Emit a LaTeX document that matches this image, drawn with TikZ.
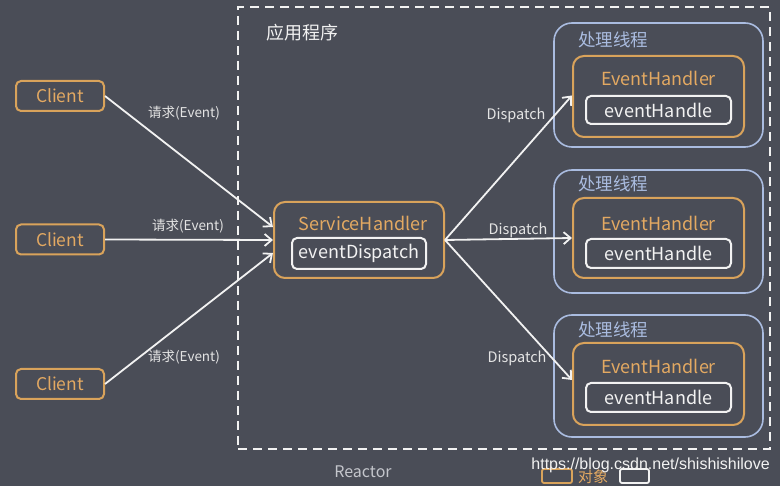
\documentclass[tikz,border=0pt]{standalone}
\usepackage{fontspec}
\setmainfont{Noto Sans CJK SC}
\newfontfamily\wmfont{Liberation Sans}
\usetikzlibrary{arrows.meta}
\definecolor{bgc}{HTML}{4A4D57}
\definecolor{org}{HTML}{D9A35B}
\definecolor{orgtxt}{HTML}{E3A962}
\definecolor{blu}{HTML}{AABCE0}
\definecolor{wht}{HTML}{F2F2F2}
\definecolor{lbl}{HTML}{E4E4E4}
\definecolor{rct}{HTML}{C4C6CC}
\tikzset{
  fs/.style={font=\fontsize{#1}{#1}\selectfont},
  clientbox/.style={draw=org, line width=2pt, rounded corners=5pt, minimum width=88pt, minimum height=30pt, inner sep=0pt, text=orgtxt, fs=17.5},
  outerbox/.style={draw=org, line width=2pt, rounded corners=11pt, inner sep=0pt},
  methodbox/.style={draw=wht, line width=2pt, rounded corners=5pt, inner sep=0pt, text=wht, fs=18},
  threadbox/.style={draw=blu, line width=1.6pt, rounded corners=18pt, inner sep=0pt, minimum width=209pt},
  titletxt/.style={text=orgtxt, fs=18, inner sep=0pt},
  threadtxt/.style={text=blu, fs=17.5, inner sep=0pt, anchor=west},
  lab/.style={text=lbl, fs=13.5, inner sep=0pt},
  dlab/.style={text=lbl, fs=14.5, inner sep=0pt},
  conn/.style={draw=wht, line width=1.8pt, -{Straight Barb[length=7pt,width=12pt,line width=1.8pt]}},
}
\begin{document}
\begin{tikzpicture}[x=1pt,y=-1pt]
\fill[bgc] (0,0) rectangle (780,486);
\useasboundingbox (0,0) rectangle (780,486);
% application frame
\node[draw=wht, line width=2.4pt, dash pattern=on 9pt off 6pt, minimum width=532pt, minimum height=442pt, inner sep=0pt] (app) at (504,228) {};
\node[text=wht, fs=18, inner sep=0pt, anchor=west] (apptxt) at (266,33) {应用程序};
% clients
\node[clientbox] (c1) at (60,96) {Client};
\node[clientbox] (c2) at (60,239.5) {Client};
\node[clientbox] (c3) at (60,384) {Client};
% service handler
\node[outerbox, minimum width=170pt, minimum height=76pt] (sh) at (359,240) {};
\node[titletxt] (shtxt) at (363,223) {ServiceHandler};
\node[methodbox, minimum width=134pt, minimum height=31pt] (ed) at (359,253.5) {eventDispatch};
% threads
\node[threadbox, minimum height=124pt] (t1) at (658.5,85) {};
\node[threadbox, minimum height=123pt] (t2) at (658.5,231.5) {};
\node[threadbox, minimum height=122pt] (t3) at (658.5,376) {};
\node[threadtxt] (tt1) at (578,40) {处理线程};
\node[threadtxt] (tt2) at (578,184) {处理线程};
\node[threadtxt] (tt3) at (578,330) {处理线程};
\node[outerbox, minimum width=171pt, minimum height=81pt] (h1) at (658.5,96.5) {};
\node[outerbox, minimum width=171pt, minimum height=80pt] (h2) at (658.5,238) {};
\node[outerbox, minimum width=171pt, minimum height=82pt] (h3) at (658.5,384) {};
\node[titletxt] (ht1) at (658.5,78) {EventHandler};
\node[titletxt] (ht2) at (658.5,223) {EventHandler};
\node[titletxt] (ht3) at (658.5,366) {EventHandler};
\node[methodbox, minimum width=145pt, minimum height=28pt] (m1) at (658.5,110) {eventHandle};
\node[methodbox, minimum width=145pt, minimum height=29pt] (m2) at (658.5,253.5) {eventHandle};
\node[methodbox, minimum width=145pt, minimum height=29pt] (m3) at (658.5,397.5) {eventHandle};
% connectors
\draw[conn] (c1.east) -- ([yshift=13pt]sh.west);
\draw[conn] (c2.east) -- (sh.west);
\draw[conn] (c3.east) -- ([yshift=-13pt]sh.west);
\draw[conn] (sh.east) -- ([yshift=1pt]h1.west);
\draw[conn] (sh.east) -- (h2.west);
\draw[conn] (sh.east) -- ([yshift=4pt]h3.west);
% labels
\node[lab] (l1) at (184,113) {请求(Event)};
\node[lab] (l2) at (188,226) {请求(Event)};
\node[lab] (l3) at (184,357) {请求(Event)};
\node[dlab] (d1) at (516,115) {Dispatch};
\node[dlab] (d2) at (518,230) {Dispatch};
\node[dlab] (d3) at (517,358) {Dispatch};
% footer
\node[text=rct, fs=16, inner sep=0pt] (reactor) at (363,472) {Reactor};
\node[draw=org, line width=1.8pt, rounded corners=2pt, minimum width=30pt, minimum height=14pt, inner sep=0pt] (lg1) at (557,476) {};
\node[text=orgtxt, fs=15, inner sep=0pt, anchor=west] (lg1t) at (578,477) {对象};
\node[draw=wht, line width=1.8pt, rounded corners=2pt, minimum width=29pt, minimum height=14pt, inner sep=0pt] (lg2) at (634.5,476) {};
\node[text=wht, font=\wmfont\fontsize{16}{16}\selectfont, inner sep=0pt, anchor=east] (wm) at (770,465) {https://blog.csdn.net/shishishilove};
\end{tikzpicture}
\end{document}
